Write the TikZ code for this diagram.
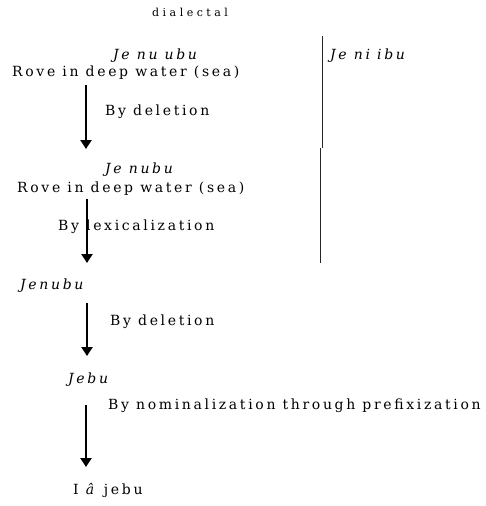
\documentclass[tikz,border=0pt]{standalone}
\usepackage{fontspec}
\setmainfont[LetterSpace=19]{DejaVu Serif}
\newfontfamily\plainserif{DejaVu Serif}
\usepackage{tikz}
\usetikzlibrary{positioning, arrows.meta, calc}
\tikzset{
    word/.style={
        anchor=west,
        inner sep=0pt,
        font=\fontsize{14}{16}\selectfont
    },
    form/.style={
        anchor=west,
        inner sep=0pt,
        font=\fontsize{14}{16}\selectfont\itshape
    },
    step arrow/.style={
        line width=2.8pt,
        -{Triangle[width=11pt,length=9pt]}
    },
    divider/.style={
        line width=1pt,
        black!85
    }
}
\begin{document}
\begin{tikzpicture}[x=1pt,y=-1pt]
      \useasboundingbox (0,0) rectangle (485,506);

      \node[word,font=\plainserif\fontsize{11}{13}\selectfont] (top) at (152,12) {d i a l e c t a l};

      \node[form] (F1) at (113,56) {Je nu ubu};
      \node[word] (G1) at (12,73) {Rove in deep water (sea)};
      \node[form] (F0) at (330,56) {Je ni ibu};
      \node[word] (R1) at (105,112) {By deletion};

      \node[form] (F2) at (105,170) {Je nubu};
      \node[word] (G2) at (17,189) {Rove in deep water (sea)};
      \node[word] (R2) at (58,227) {By lexicalization};

      \node[form] (F3) at (20,286) {Jenubu};
      \node[word] (R3) at (110,322) {By deletion};

      \node[form] (F4) at (68,380) {Jebu};
      \node[word] (R4) at (108,406) {By nominalization through prefixization};

      \node[word] (F5) at (73,490) {I \textit{â} jebu};

      \coordinate (a1) at (86,85);
      \coordinate (b1) at (86,149);
      \coordinate (a2) at (87,199);
      \coordinate (b2) at (87,263);
      \coordinate (a3) at (87,303);
      \coordinate (b3) at (87,356);
      \coordinate (a4) at (86,405);
      \coordinate (b4) at (86,467);

      \draw[step arrow] (a1) -- (b1);
      \draw[step arrow] (a2) -- (b2);
      \draw[step arrow] (a3) -- (b3);
      \draw[step arrow] (a4) -- (b4);

      \coordinate (v1) at (322,36);
      \coordinate (v2) at (322,148);
      \coordinate (v3) at (320,148);
      \coordinate (v4) at (320,263);
      \draw[divider] (v1) -- (v2);
      \draw[divider] (v3) -- (v4);

    \end{tikzpicture}
\end{document}
